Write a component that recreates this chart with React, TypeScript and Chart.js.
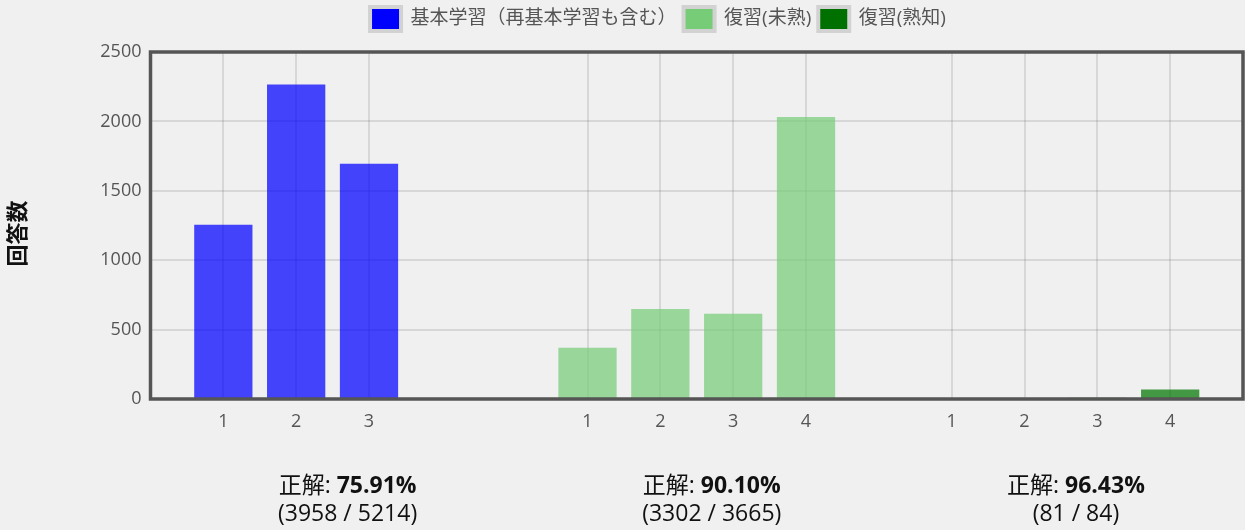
import React, { useEffect, useRef } from 'react';
import { Chart, registerables } from 'chart.js';

Chart.register(...registerables);

// ---- data ----
const categoryLabels = ['', '1', '2', '3', '', '', '1', '2', '3', '4', '', '1', '2', '3', '4', ''];
const seriesNames = ['基本学習（再基本学習も含む）', '復習(未熟)', '復習(熟知)'];
const basicStudy = [1255, 2265, 1694];
const reviewUnfamiliar = [370, 648, 615, 2032];
const reviewFamiliar = [3, 4, 9, 68];
const groupStartIndex = [1, 6, 11];
const correctCounts = [3958, 3302, 81];
const totalCounts = [5214, 3665, 84];
const yAxisTitle = '回答数';
const correctLabel = '正解: ';
const yMax = 2500;
const yStep = 500;

const FONT = '"Open Sans", "Noto Sans CJK JP", sans-serif';
const barColors = ['rgba(0,0,255,0.72)', 'rgba(119,204,119,0.72)', 'rgba(0,119,0,0.72)'];
const legendColors = ['#0000ff', '#77cc77', '#007000'];

function padSeries(values: number[], start: number): (number | null)[] {
  const arr: (number | null)[] = categoryLabels.map(() => null);
  values.forEach((v, i) => {
    arr[start + i] = v;
  });
  return arr;
}

const seriesValues = [basicStudy, reviewUnfamiliar, reviewFamiliar];

const frameAndTextPlugin = {
  id: 'frameAndText',
  beforeInit(chart: any) {
    const origFit = chart.legend.fit;
    chart.legend.fit = function () {
      origFit.call(this);
      this.height = 52;
    };
  },
  afterDatasetsDraw(chart: any) {
    const { ctx, chartArea } = chart;
    ctx.save();
    ctx.strokeStyle = '#555555';
    ctx.lineWidth = 3.5;
    ctx.strokeRect(chartArea.left, chartArea.top, chartArea.right - chartArea.left, chartArea.bottom - chartArea.top);
    ctx.restore();
  },
  afterDraw(chart: any) {
    const { ctx, chartArea } = chart;
    ctx.save();
    // y axis title
    ctx.translate(19, (chartArea.top + chartArea.bottom) / 2 + 8);
    ctx.rotate(-Math.PI / 2);
    ctx.font = `bold 22px ${FONT}`;
    ctx.fillStyle = '#111111';
    ctx.textAlign = 'center';
    ctx.textBaseline = 'middle';
    ctx.fillText(yAxisTitle, 0, 0);
    ctx.restore();

    // correctness texts
    const colW = (chartArea.right - chartArea.left) / 3;
    ctx.save();
    ctx.fillStyle = '#111111';
    ctx.textBaseline = 'alphabetic';
    correctCounts.forEach((c, k) => {
      const cx = chartArea.left + (k + 0.5) * colW + 15;
      const pct = ((c / totalCounts[k]) * 100).toFixed(2) + '%';
      ctx.font = `23px ${FONT}`;
      const w1 = ctx.measureText(correctLabel).width;
      ctx.font = `bold 23px ${FONT}`;
      const w2 = ctx.measureText(pct).width;
      const x0 = cx - (w1 + w2) / 2;
      ctx.textAlign = 'left';
      ctx.font = `23px ${FONT}`;
      ctx.fillText(correctLabel, x0, 493);
      ctx.font = `bold 23px ${FONT}`;
      ctx.fillText(pct, x0 + w1, 493);
      ctx.font = `23px ${FONT}`;
      ctx.textAlign = 'center';
      ctx.fillText(`(${c} / ${totalCounts[k]})`, cx, 521);
    });
    ctx.restore();
  },
};

export default function App() {
  const canvasRef = useRef<HTMLCanvasElement | null>(null);

  useEffect(() => {
    const canvas = canvasRef.current;
    if (!canvas) return;
    const chart = new Chart(canvas, {
      type: 'bar',
      data: {
        labels: categoryLabels,
        datasets: seriesValues.map((vals, i) => ({
          label: seriesNames[i],
          data: padSeries(vals, groupStartIndex[i]),
          backgroundColor: barColors[i],
          borderWidth: 0,
          barPercentage: 1.0,
          categoryPercentage: 0.8,
        })),
      },
      options: {
        responsive: false,
        animation: false,
        maintainAspectRatio: false,
        layout: { padding: { left: 73, right: 2, top: 0, bottom: 0 } },
        plugins: {
          tooltip: { enabled: false },
          legend: {
            position: 'top',
            labels: {
              font: { family: FONT, size: 19 },
              color: '#555555',
              boxWidth: 31,
              boxHeight: 24,
              padding: 7,
              generateLabels: (ch: any) =>
                ch.data.datasets.map((ds: any, i: number) => ({
                  text: ds.label,
                  fillStyle: legendColors[i],
                  strokeStyle: '#d2d2d2',
                  lineWidth: 4,
                  fontColor: '#555555',
                  hidden: false,
                  datasetIndex: i,
                })),
            },
          },
        },
        scales: {
          x: {
            type: 'category',
            stacked: true,
            offset: false,
            grid: {
              offset: false,
              drawTicks: false,
              lineWidth: 2,
              color: (c: any) => (c.tick && c.tick.label === '' ? 'rgba(0,0,0,0)' : 'rgba(0,0,0,0.1)'),
            },
            border: { display: false },
            ticks: {
              autoSkip: false,
              maxRotation: 0,
              padding: 12,
              color: '#555555',
              font: { family: FONT, size: 18 },
            },
            afterFit: (scale: any) => {
              scale.height = 131;
              scale.paddingLeft = 0;
              scale.paddingRight = 0;
            },
          },
          y: {
            stacked: true,
            min: 0,
            max: yMax,
            grid: { drawTicks: false, lineWidth: 2, color: 'rgba(0,0,0,0.1)' },
            border: { display: false },
            ticks: {
              stepSize: yStep,
              padding: 9,
              color: '#555555',
              font: { family: FONT, size: 18 },
              callback: (v: any) => String(v),
            },
            afterFit: (scale: any) => {
              scale.width = 77.5;
            },
          },
        },
      },
      plugins: [frameAndTextPlugin],
    } as any);
    return () => chart.destroy();
  }, []);

  return (
    <div
      style={{
        position: 'fixed',
        left: 0,
        top: 0,
        width: 1245,
        height: 530,
        background: '#f0f0f0',
      }}
    >
      <canvas ref={canvasRef} width={1245} height={530} style={{ display: 'block', width: 1245, height: 530 }} />
    </div>
  );
}
